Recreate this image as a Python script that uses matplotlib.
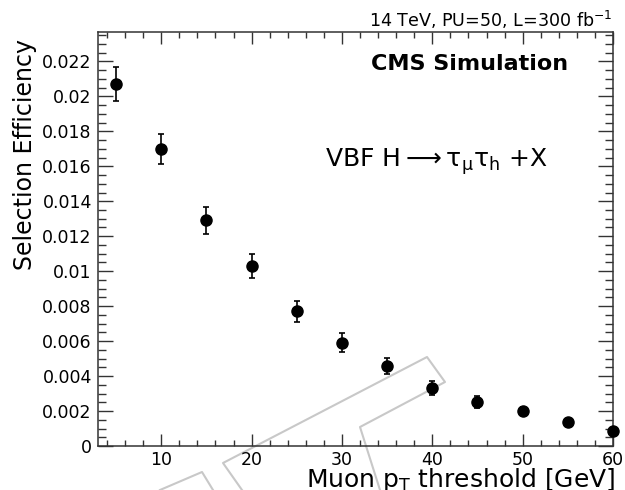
import matplotlib
matplotlib.use("Agg")
import matplotlib.pyplot as plt
from matplotlib.ticker import MultipleLocator, FuncFormatter
from matplotlib.lines import Line2D

plt.rcParams['font.family'] = ['DejaVu Sans']
plt.rcParams['mathtext.fontset'] = 'dejavusans'

# data
pt_threshold = [5, 10, 15, 20, 25, 30, 35, 40, 45, 50, 55, 60]
efficiency = [0.0207, 0.0170, 0.0129, 0.0103, 0.0077, 0.0059, 0.0046, 0.0033,
              0.0025, 0.0020, 0.00135, 0.00088]
efficiency_err = [0.00097, 0.00087, 0.00077, 0.00068, 0.00059, 0.00054, 0.00046,
                  0.00039, 0.00034, 0.00022, 0.00015, 0.00012]

W, H = 625, 490
fig = plt.figure(figsize=(W / 100, H / 100), dpi=100)
ax = fig.add_axes([98 / W, (H - 446) / H, (613 - 98) / W, (446 - 31.7) / H])
ax.set_facecolor('none')

ax.errorbar(pt_threshold, efficiency, yerr=efficiency_err, fmt='o', color='black',
            markersize=8, elinewidth=1.2, capsize=2.5, capthick=1.2, clip_on=False,
            zorder=5)

ax.set_xlim(3, 60)
ax.set_ylim(0, 0.0237)

ax.xaxis.set_major_locator(MultipleLocator(10))
ax.xaxis.set_minor_locator(MultipleLocator(2))
ax.yaxis.set_major_locator(MultipleLocator(0.002))
ax.yaxis.set_minor_locator(MultipleLocator(0.0005))
ax.yaxis.set_major_formatter(FuncFormatter(lambda v, p: '{:g}'.format(round(v, 5))))

for s in ax.spines.values():
    s.set_linewidth(1.1)
    s.set_color('#333333')

ax.tick_params(axis='both', which='both', direction='in', top=True, right=True,
               color='#333333', width=1.0, labelsize=12.5)
ax.tick_params(axis='y', which='major', length=10.5, pad=4.5)
ax.tick_params(axis='y', which='minor', length=5.5)
ax.tick_params(axis='x', which='major', length=8.4, pad=3.5)
ax.tick_params(axis='x', which='minor', length=4)

# axis titles
fig.text(25 / W, (H - 270) / H, 'Selection Efficiency', rotation=90,
         ha='center', va='bottom', fontsize=17)
fig.text(615 / W, 3 / H, r'Muon p$_{\mathrm{T}}$ threshold [GeV]',
         ha='right', va='baseline', fontsize=18)

# annotations
fig.text(568 / W, (H - 70) / H, 'CMS Simulation', ha='right', va='baseline',
         fontsize=16, fontweight='bold')
fig.text(613 / W, (H - 27) / H, r'14 TeV, PU=50, L=300 fb$^{\mathregular{-1}}$',
         ha='right', va='baseline', fontsize=12.6)
fig.text(325 / W, (H - 167) / H,
         r'VBF H$\longrightarrow\mathrm{\tau}_{\mathrm{\mu}}\mathrm{\tau}_{\mathrm{h}}$ +X',
         ha='left', va='baseline', fontsize=18)

# faint watermark outline
wm = dict(color='#c8c8c8', lw=1.5, zorder=-1)
polyA = [(242, 490), (223, 463), (427, 357), (445, 382), (360, 427), (380, 490)]
polyB = [(160, 490), (202, 472), (213, 490)]
for poly in (polyA, polyB):
    xs = [p[0] / W for p in poly]
    ys = [(H - p[1]) / H for p in poly]
    fig.add_artist(Line2D(xs, ys, transform=fig.transFigure, **wm))

fig.savefig('out.png', dpi=100)
